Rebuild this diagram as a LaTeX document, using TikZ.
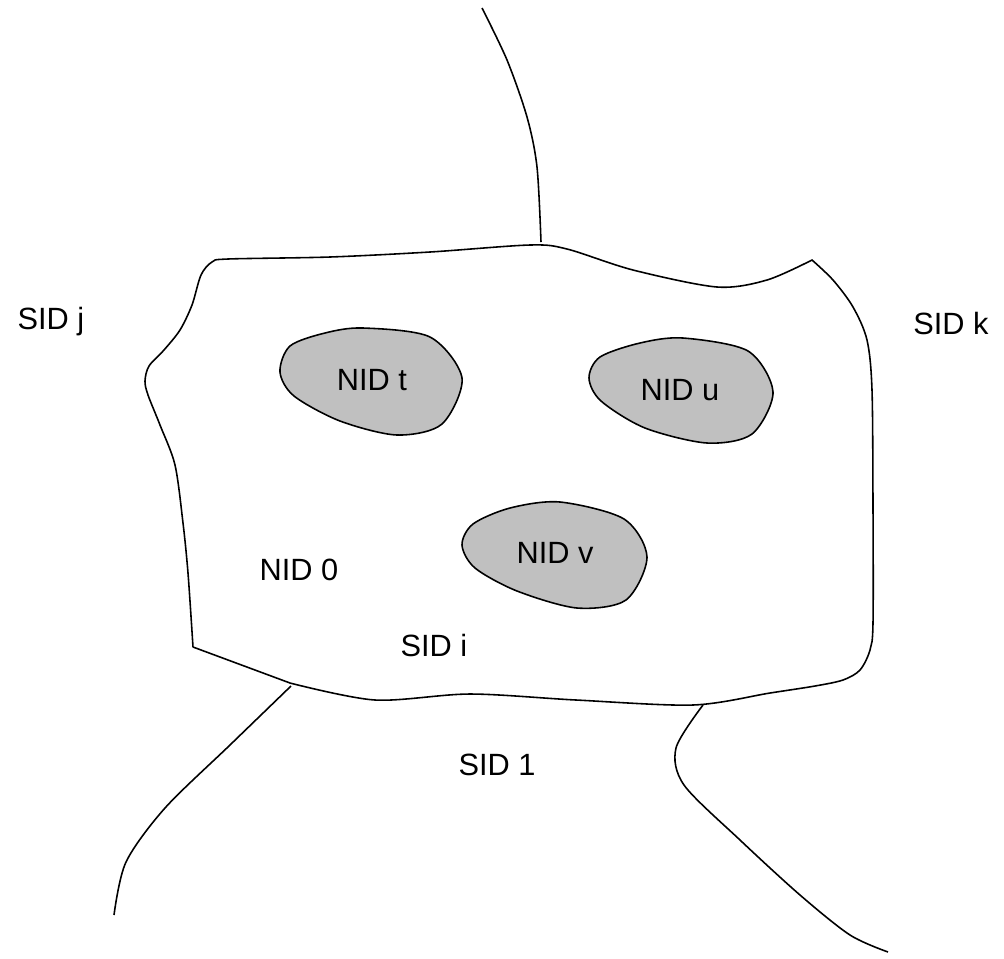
\documentclass[tikz,border=0pt]{standalone}
\usepackage{fontspec}
\setmainfont{Liberation Sans}
\usepackage{tikz}
\definecolor{blobfill}{RGB}{192, 192, 192}

\begin{document}
\begin{tikzpicture}[x=0.02cm, y=-0.02cm, line width=0.9pt,
    font=\fontsize{17.5}{20}\selectfont,
    blob/.style={draw, fill=blobfill}]
  \useasboundingbox (0,0) rectangle (1004,958);
  % area SID i
  \draw plot[smooth] coordinates {(193,647) (188,573) (183,523) (175,465) (160,425)
      (148,395) (145,381) (149,366) (164,350) (180,330) (192,305) (201,275) (212,262)
      (228,259) (330,257) (430,252) (530,245) (567,249) (633,270) (717,287) (767,280) (812,260)}
    -- plot[smooth] coordinates {(812,260) (833,280) (853,307) (867,340) (872,390)
      (873,507) (873,623) (870,650) (860,670) (843,680) (815,686) (770,693) (693,705)
      (576,700) (470,694) (375,700) (290,683)}
    -- (193,647);
  % borders to the neighbours
  \draw plot[smooth] coordinates {(482,8) (507,60) (527,117) (537,167) (541,242)};
  \draw plot[smooth] coordinates {(291,686) (230,745) (165,808) (126,862) (114,915)};
  \draw plot[smooth] coordinates {(703,705) (676,748) (684,785) (740,840) (800,895) (850,935) (888,952)};
  % nodes inside
  \draw[blob] plot[smooth cycle] coordinates {(290,346) (325,333) (363,328) (430,337)
      (462,378) (442,424) (397,435) (340,421) (294,396) (280,372)};
  \draw[blob] plot[smooth cycle] coordinates {(600,357) (640,343) (683,338) (748,351)
      (773,392) (752,434) (707,443) (645,428) (601,401) (589,378)};
  \draw[blob] plot[smooth cycle] coordinates {(473,524) (510,508) (560,502) (624,519)
      (647,557) (626,600) (577,608) (517,591) (475,568) (462,545)};
  \node (nidt) at (372,380) {NID t};
  \node (nidu) at (680,390) {NID u};
  \node (nidv) at (555,553) {NID v};
  \node (nid0) at (299,570) {NID 0};
  \node (sidi) at (434,645) {SID i};
  \node (sidj) at (51,322) {SID j};
  \node (sidk) at (951,323) {SID k};
  \node (sid1) at (497,765) {SID 1};
\end{tikzpicture}
\end{document}
